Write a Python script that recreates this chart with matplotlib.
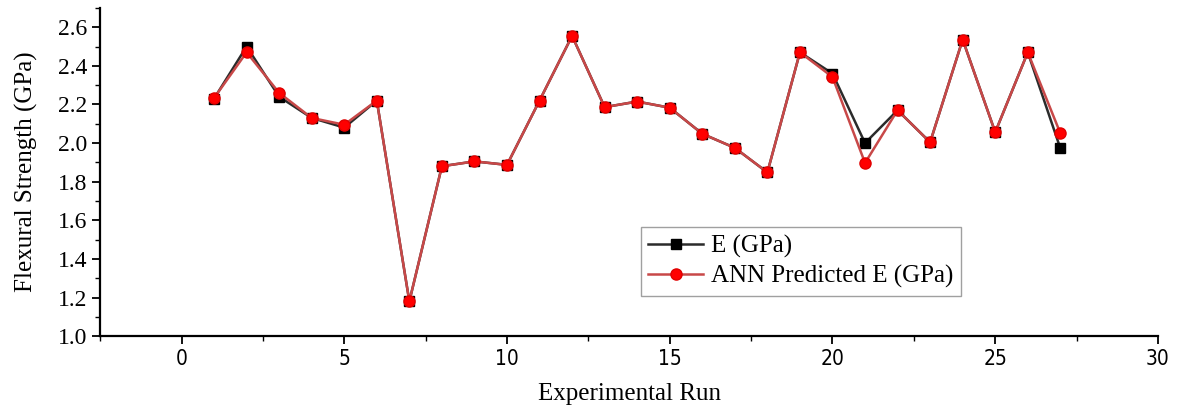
import numpy as np
import matplotlib.pyplot as plt
from matplotlib.ticker import MultipleLocator

# Flexural strength per experimental run
runs = np.arange(1, 28)
e_measured = [2.23, 2.50, 2.24, 2.13, 2.08, 2.22, 1.18, 1.88, 1.905, 1.887,
              2.22, 2.555, 2.186, 2.215, 2.183, 2.048, 1.975, 1.848, 2.47, 2.36,
              2.00, 2.17, 2.004, 2.536, 2.056, 2.47, 1.973]
e_predicted = [2.233, 2.47, 2.26, 2.13, 2.095, 2.22, 1.18, 1.88, 1.905, 1.887,
               2.22, 2.555, 2.186, 2.215, 2.183, 2.048, 1.975, 1.848, 2.47, 2.342,
               1.897, 2.17, 2.004, 2.536, 2.056, 2.47, 2.051]

serif = 'Liberation Serif'

fig = plt.figure(figsize=(11.78, 4.16), dpi=100)
ax = fig.add_axes([0.085, 0.192, 0.898, 0.789])

ax.plot(runs, e_measured, color='#2b2b2b', lw=1.8, marker='s', ms=7.5,
        mfc='black', mec='black', label='E (GPa)')
ax.plot(runs, e_predicted, color='#c84848', lw=1.8, marker='o', ms=8,
        mfc='#ff0000', mec='#e00000', label='ANN Predicted E (GPa)')

ax.set_xlim(-2.5, 30)
ax.set_ylim(1.0, 2.7)
ax.xaxis.set_major_locator(MultipleLocator(5))
ax.xaxis.set_minor_locator(MultipleLocator(2.5))
ax.yaxis.set_major_locator(MultipleLocator(0.2))
ax.yaxis.set_minor_locator(MultipleLocator(0.1))
ax.yaxis.set_major_formatter(plt.FuncFormatter(lambda v, p: f'{v:.1f}'))

for side in ['top', 'right']:
    ax.spines[side].set_visible(False)
for side in ['left', 'bottom']:
    ax.spines[side].set_linewidth(1.6)
ax.tick_params(which='major', direction='out', length=6, width=1.3)
ax.tick_params(which='minor', direction='out', length=3.5, width=1.0)
ax.tick_params(axis='y', labelsize=17)
ax.tick_params(axis='x', labelsize=15)
for lab in ax.get_yticklabels():
    lab.set_family(serif)
for lab in ax.get_xticklabels():
    lab.set_family('Liberation Sans Narrow')
    lab.set_stretch('condensed')

ax.set_ylabel('Flexural Strength (GPa)', fontsize=18, family=serif, labelpad=14)
ax.set_xlabel('Experimental Run', fontsize=18, family=serif, labelpad=10)

leg = ax.legend(loc='upper left', bbox_to_anchor=(0.511, 0.332),
                prop={'family': serif, 'size': 18}, frameon=True, fancybox=False,
                edgecolor='#888888', borderpad=0.3, labelspacing=0.3,
                handlelength=2.2, handletextpad=0.3, borderaxespad=0)
leg.get_frame().set_linewidth(1.0)

fig.savefig('out.png', dpi=100)
